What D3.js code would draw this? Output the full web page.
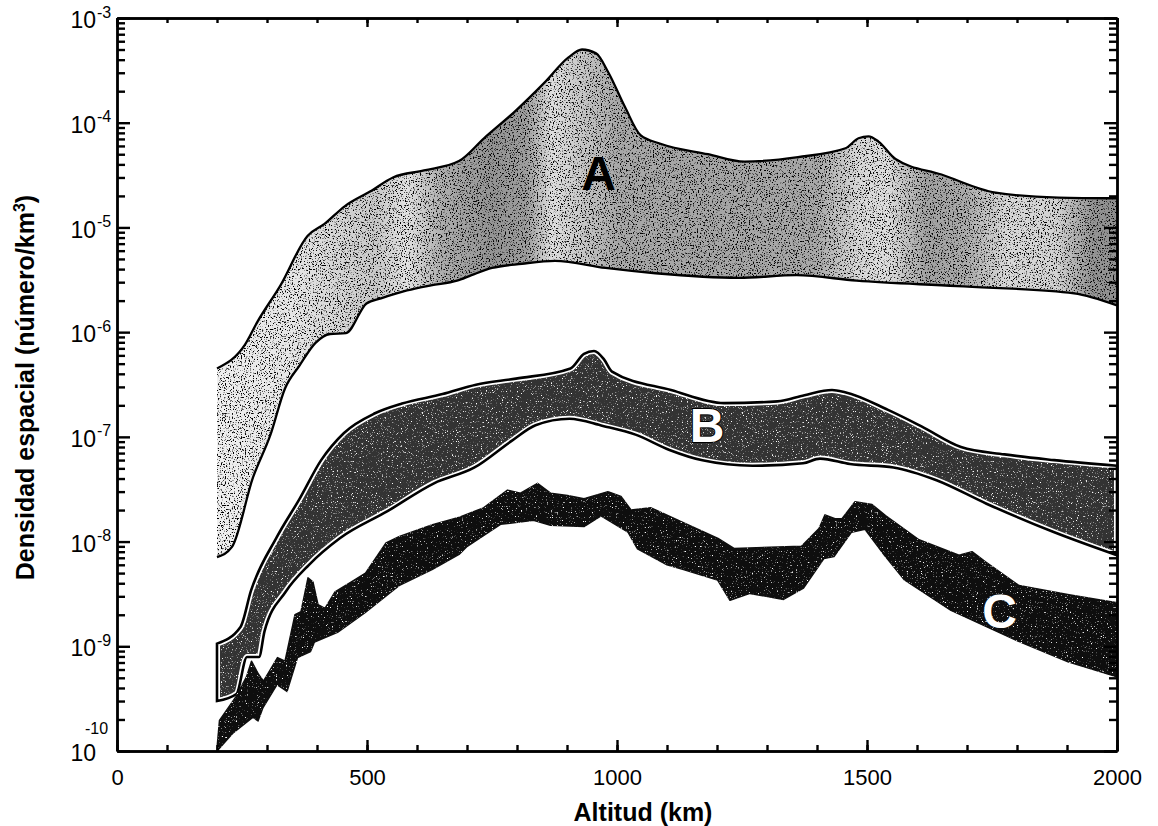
<!doctype html>
<html lang="es">
<head>
<meta charset="utf-8">
<title>Densidad espacial vs altitud</title>
<script src="https://d3js.org/d3.v7.min.js"></script>
<style>
  body { margin: 0; background: #fff; }
  svg { font-family: "Liberation Sans", Arial, sans-serif; }
</style>
</head>
<body>
<script>
// ---- data: altitude (km) / density (number per km^3) ----
// band A
const altAUpper = [200, 256, 281, 327, 381, 415, 456, 506, 552, 614, 684, 734, 795, 856, 903, 930, 958, 983, 1016, 1047, 1087, 1182, 1255, 1362, 1457, 1483, 1503, 1523, 1557, 1649, 1757, 1883, 2000];
const denAUpper = [4.5e-7, 7.6e-7, 1.26e-6, 2.8e-6, 8.3e-6, 1.08e-5, 1.6e-5, 2.2e-5, 3.0e-5, 3.5e-5, 4.3e-5, 7.1e-5, 1.27e-4, 2.44e-4, 4.2e-4, 5.0e-4, 4.6e-4, 3.0e-4, 1.41e-4, 7.6e-5, 6.3e-5, 5.0e-5, 4.25e-5, 4.7e-5, 5.7e-5, 7.1e-5, 7.4e-5, 6.6e-5, 4.5e-5, 3.2e-5, 2.15e-5, 1.93e-5, 1.9e-5];
const altALower = [200, 230, 272, 307, 336, 365, 397, 426, 458, 499, 528, 580, 628, 680, 709, 750, 810, 876, 977, 1077, 1244, 1359, 1479, 1680, 1914, 2000];
const denALower = [7.1e-9, 8.9e-9, 4.1e-8, 1.05e-7, 2.9e-7, 4.8e-7, 7.9e-7, 9.6e-7, 9.8e-7, 1.88e-6, 2.1e-6, 2.5e-6, 2.8e-6, 3.1e-6, 3.5e-6, 4.1e-6, 4.5e-6, 4.8e-6, 4.1e-6, 3.65e-6, 3.3e-6, 3.5e-6, 3.1e-6, 2.75e-6, 2.35e-6, 1.8e-6];

// band B
const altBUpper = [200, 247, 268, 319, 366, 408, 454, 516, 570, 651, 718, 798, 907, 934, 954, 974, 990, 1108, 1214, 1321, 1375, 1430, 1456, 1542, 1609, 1688, 1775, 1874, 2000];
const denBUpper = [1.06e-9, 1.53e-9, 3.4e-9, 1.09e-8, 2.6e-8, 5.96e-8, 1.09e-7, 1.68e-7, 2.08e-7, 2.56e-7, 3.15e-7, 3.6e-7, 4.5e-7, 6.2e-7, 6.6e-7, 5.5e-7, 4.2e-7, 2.8e-7, 2.1e-7, 2.18e-7, 2.5e-7, 2.8e-7, 2.67e-7, 1.81e-7, 1.26e-7, 8.0e-8, 6.8e-8, 6.0e-8, 5.3e-8];
const altBLower = [200, 239, 260, 284, 295, 337, 384, 445, 541, 634, 715, 790, 837, 905, 972, 1037, 1105, 1171, 1271, 1372, 1406, 1466, 1553, 1639, 1739, 1872, 2000];
const denBLower = [3.0e-10, 3.5e-10, 7.9e-10, 7.9e-10, 1.39e-9, 3.3e-9, 6.0e-9, 1.07e-8, 1.95e-8, 3.6e-8, 5.1e-8, 9.2e-8, 1.29e-7, 1.49e-7, 1.27e-7, 1.05e-7, 7.5e-8, 5.97e-8, 5.3e-8, 5.6e-8, 6.2e-8, 5.5e-8, 5.1e-8, 3.85e-8, 2.3e-8, 1.24e-8, 7.4e-9];

// band C
const altCUpper = [200, 205, 238, 259, 269, 283, 293, 321, 336, 356, 368, 382, 392, 402, 416, 436, 468, 497, 538, 565, 631, 685, 733, 781, 807, 841, 867, 901, 934, 982, 1008, 1028, 1068, 1135, 1202, 1234, 1369, 1404, 1416, 1436, 1450, 1476, 1510, 1537, 1604, 1684, 1710, 1737, 1804, 1904, 2000];
const denCUpper = [1.06e-10, 1.96e-10, 3.3e-10, 5.1e-10, 7.2e-10, 5.4e-10, 4.65e-10, 7.8e-10, 7.2e-10, 2.0e-9, 2.14e-9, 4.5e-9, 4.1e-9, 2.5e-9, 2.3e-9, 3.3e-9, 4.1e-9, 5.0e-9, 9.7e-9, 1.12e-8, 1.45e-8, 1.71e-8, 2.1e-8, 3.1e-8, 2.9e-8, 3.6e-8, 2.9e-8, 2.75e-8, 2.57e-8, 3.0e-8, 2.7e-8, 2.0e-8, 2.1e-8, 1.5e-8, 1.07e-8, 8.6e-9, 9.0e-9, 1.33e-8, 1.8e-8, 1.65e-8, 1.65e-8, 2.4e-8, 2.26e-8, 1.77e-8, 1.04e-8, 7.4e-9, 8.0e-9, 6.4e-9, 3.8e-9, 3.1e-9, 2.6e-9];
const altCLower = [200, 231, 272, 282, 292, 320, 340, 361, 387, 395, 441, 496, 564, 630, 685, 699, 767, 833, 867, 934, 968, 1022, 1041, 1100, 1133, 1201, 1226, 1266, 1333, 1373, 1414, 1434, 1469, 1496, 1535, 1575, 1668, 1802, 1902, 2000];
const denCLower = [1.0e-10, 1.47e-10, 2.1e-10, 1.94e-10, 2.6e-10, 4.3e-10, 3.7e-10, 7.8e-10, 8.9e-10, 1.1e-9, 1.36e-9, 2.1e-9, 3.8e-9, 5.4e-9, 7.6e-9, 8.9e-9, 1.46e-8, 1.6e-8, 1.43e-8, 1.39e-8, 1.76e-8, 1.23e-8, 8.5e-9, 6.0e-9, 5.4e-9, 4.3e-9, 2.75e-9, 3.2e-9, 2.8e-9, 3.6e-9, 6.9e-9, 7.2e-9, 1.23e-8, 1.31e-8, 7.4e-9, 4.3e-9, 2.2e-9, 1.12e-9, 7.1e-10, 5.1e-10];

// band names and where they are written (km, density)
const bandNames = ["A", "B", "C"];
const nameAlt = [963, 1180, 1765];
const nameDen = [3.3e-5, 1.32e-7, 2.2e-9];

// axis ticks
const xTicks = [0, 500, 1000, 1500, 2000];
const yDecades = [1e-3, 1e-4, 1e-5, 1e-6, 1e-7, 1e-8, 1e-9, 1e-10];
const yExp = ["-3", "-4", "-5", "-6", "-7", "-8", "-9", "-10"];

// ---- layout ----
const width = 1158, height = 826;
const plotLeft = 117, plotRight = 1117, plotTop = 18, plotBottom = 751;

const x = d3.scaleLinear().domain([0, 2000]).range([plotLeft, plotRight]);
const y = d3.scaleLog().domain([1e-10, 1e-3]).range([plotBottom, plotTop]);

const svg = d3.select("body").append("svg")
    .attr("width", width)
    .attr("height", height);
const defs = svg.append("defs");

// grey shading along band A (km, grey)
const shadeA = [[200, "#efefef"], [350, "#e6e6e6"], [450, "#d4d4d4"], [520, "#c8c8c8"], [580, "#e2e2e2"],
    [650, "#adadad"], [750, "#939393"], [820, "#9e9e9e"], [870, "#dedede"], [920, "#cbcbcb"],
    [1000, "#a8a8a8"], [1200, "#a5a5a5"], [1400, "#a8a8a8"], [1480, "#d6d6d6"], [1540, "#dedede"],
    [1620, "#a1a1a1"], [1700, "#ababab"], [1780, "#d8d8d8"], [1880, "#d2d2d2"], [1950, "#949494"], [2000, "#909090"]];

const grad = defs.append("linearGradient")
    .attr("id", "shadeA")
    .attr("gradientUnits", "userSpaceOnUse")
    .attr("x1", x(0)).attr("x2", x(2000))
    .attr("y1", 0).attr("y2", 0);
grad.selectAll("stop")
    .data(shadeA)
    .enter()
    .append("stop")
    .attr("offset", d => d[0] / 2000)
    .attr("stop-color", d => d[1]);

// speckle texture: noise turned into sparse dots, kept inside the shape
function speckle(id, rgb, freq, gain, bias, seed) {
    const f = defs.append("filter")
        .attr("id", id)
        .attr("color-interpolation-filters", "sRGB");
    f.append("feTurbulence")
        .attr("type", "fractalNoise")
        .attr("baseFrequency", freq)
        .attr("numOctaves", 2)
        .attr("seed", seed)
        .attr("result", "noise");
    f.append("feColorMatrix")
        .attr("in", "noise")
        .attr("type", "matrix")
        .attr("values", `0 0 0 0 ${rgb} 0 0 0 0 ${rgb} 0 0 0 0 ${rgb} ${gain} 0 0 0 ${bias}`)
        .attr("result", "dots");
    f.append("feComposite")
        .attr("in", "dots")
        .attr("in2", "SourceGraphic")
        .attr("operator", "in")
        .attr("result", "inside");
    const m = f.append("feMerge");
    m.append("feMergeNode").attr("in", "SourceGraphic");
    m.append("feMergeNode").attr("in", "inside");
}
speckle("dotsDark", 0, 0.75, 7, -3.9, 3);
speckle("dotsLight", 1, 0.8, 6, -3.7, 7);
speckle("dotsFew", 1, 0.8, 6, -3.9, 11);

// closed band outline: upper edge left->right, lower edge back
function bandPath(upAlt, upDen, loAlt, loDen, curve) {
    const line = d3.line()
        .x(d => x(d[0]))
        .y(d => y(d[1]))
        .curve(curve);
    const up = line(d3.zip(upAlt, upDen));
    const lo = line(d3.zip(loAlt, loDen).reverse());
    return up + "L" + lo.slice(1) + "Z";
}
function edge(alt, den, curve) {
    return d3.line().x(d => x(d[0])).y(d => y(d[1])).curve(curve)(d3.zip(alt, den));
}

// ---- band A: stippled grey, outlined top and bottom only ----
svg.append("path")
    .attr("d", bandPath(altAUpper, denAUpper, altALower, denALower, d3.curveMonotoneX))
    .attr("fill", "url(#shadeA)")
    .attr("filter", "url(#dotsDark)");
svg.append("path")
    .attr("d", edge(altAUpper, denAUpper, d3.curveMonotoneX))
    .attr("fill", "none").attr("stroke", "#000").attr("stroke-width", 2.3);
svg.append("path")
    .attr("d", edge(altALower, denALower, d3.curveMonotoneX))
    .attr("fill", "none").attr("stroke", "#000").attr("stroke-width", 2.3);

// ---- band B: dark hatch, black rim with a white line inside ----
const pathB = bandPath(altBUpper, denBUpper, altBLower, denBLower, d3.curveMonotoneX);
defs.append("clipPath").attr("id", "clipB").append("path").attr("d", pathB);
svg.append("path")
    .attr("d", pathB)
    .attr("fill", "#333")
    .attr("filter", "url(#dotsLight)");
svg.append("path")
    .attr("d", pathB)
    .attr("fill", "none")
    .attr("stroke", "#fff")
    .attr("stroke-width", 6)
    .attr("clip-path", "url(#clipB)");
svg.append("path")
    .attr("d", pathB)
    .attr("fill", "none")
    .attr("stroke", "#000")
    .attr("stroke-width", 2.6);

// ---- band C: almost black, jagged ----
svg.append("path")
    .attr("d", bandPath(altCUpper, denCUpper, altCLower, denCLower, d3.curveLinear))
    .attr("fill", "#0e0e0e")
    .attr("stroke", "#0e0e0e")
    .attr("stroke-width", 1.5)
    .attr("stroke-linejoin", "round")
    .attr("filter", "url(#dotsFew)");

// band names
svg.selectAll(".bandname")
    .data(bandNames)
    .enter()
    .append("text")
    .attr("class", "bandname")
    .attr("x", (d, i) => x(nameAlt[i]))
    .attr("y", (d, i) => y(nameDen[i]))
    .attr("dy", "0.36em")
    .attr("text-anchor", "middle")
    .attr("font-size", 48)
    .attr("font-weight", "bold")
    .attr("fill", (d, i) => i === 0 ? "#000" : "#fff")
    .attr("stroke", (d, i) => i === 1 ? "#000" : "none")
    .attr("stroke-width", 2)
    .attr("paint-order", "stroke")
    .text(d => d);

// ---- axes (ticks point inward) ----
const xMinor = d3.range(0, 2001, 100);
const yMinor = [];
yDecades.slice(1).forEach(d => d3.range(2, 10).forEach(k => yMinor.push(d * k)));

function frame(g) {
    g.attr("stroke-width", 2.4)
     .attr("font-family", null)
     .attr("font-size", null);
}

// bottom
svg.append("g")
    .attr("transform", "translate(0," + plotBottom + ")")
    .call(d3.axisBottom(x).tickValues(xMinor).tickSize(-6).tickSizeOuter(0).tickFormat(""))
    .call(frame);
svg.append("g")
    .attr("transform", "translate(0," + plotBottom + ")")
    .call(d3.axisBottom(x).tickValues(xTicks).tickSize(-11).tickSizeOuter(0).tickPadding(18).tickFormat(d3.format("d")))
    .call(frame)
    .selectAll("text")
    .attr("font-size", 22)
    .attr("fill", "#000");

// top
svg.append("g")
    .attr("transform", "translate(0," + plotTop + ")")
    .call(d3.axisTop(x).tickValues(xMinor).tickSize(-5).tickSizeOuter(0).tickFormat(""))
    .call(frame);
svg.append("g")
    .attr("transform", "translate(0," + plotTop + ")")
    .call(d3.axisTop(x).tickValues(xTicks).tickSize(-9).tickSizeOuter(0).tickFormat(""))
    .call(frame);

// left: "10" from the axis, exponent as its own small text
svg.append("g")
    .attr("transform", "translate(" + plotLeft + ",0)")
    .call(d3.axisLeft(y).tickValues(yMinor).tickSize(-8).tickSizeOuter(0).tickFormat(""))
    .call(frame);
const yLab = svg.append("g")
    .attr("transform", "translate(" + plotLeft + ",0)")
    .call(d3.axisLeft(y).tickValues(yDecades).tickSize(-13).tickSizeOuter(0).tickPadding(21).tickFormat(() => "10"))
    .call(frame);
yLab.selectAll(".tick text")
    .attr("font-size", 23)
    .attr("fill", "#000")
    .attr("dy", "0.42em");
// the last exponent sits above its "10", as in the corner of the original
yLab.selectAll(".tick")
    .append("text")
    .attr("x", (d, i) => i === yExp.length - 1 ? -32 : -20)
    .attr("y", (d, i) => i === yExp.length - 1 ? -18 : -1)
    .attr("font-size", 16)
    .attr("fill", "#000")
    .attr("text-anchor", "start")
    .text((d, i) => yExp[i]);

// right
svg.append("g")
    .attr("transform", "translate(" + plotRight + ",0)")
    .call(d3.axisRight(y).tickValues(yMinor).tickSize(-8).tickSizeOuter(0).tickFormat(""))
    .call(frame);
svg.append("g")
    .attr("transform", "translate(" + plotRight + ",0)")
    .call(d3.axisRight(y).tickValues(yDecades).tickSize(-13).tickSizeOuter(0).tickFormat(""))
    .call(frame);

// ---- axis titles ----
svg.append("text")
    .attr("x", 643)
    .attr("y", 821)
    .attr("text-anchor", "middle")
    .attr("font-size", 25)
    .attr("font-weight", "bold")
    .text("Altitud (km)");

const yTitle = svg.append("text")
    .attr("transform", "translate(34," + ((plotTop + plotBottom) / 2 + 3) + ") rotate(-90)")
    .attr("text-anchor", "middle")
    .attr("font-size", 25)
    .attr("font-weight", "bold");
yTitle.append("tspan").text("Densidad espacial (número/km");
yTitle.append("tspan").attr("dy", -9).attr("font-size", 16).text("3");
yTitle.append("tspan").attr("dy", 9).text(")");
</script>
</body>
</html>
